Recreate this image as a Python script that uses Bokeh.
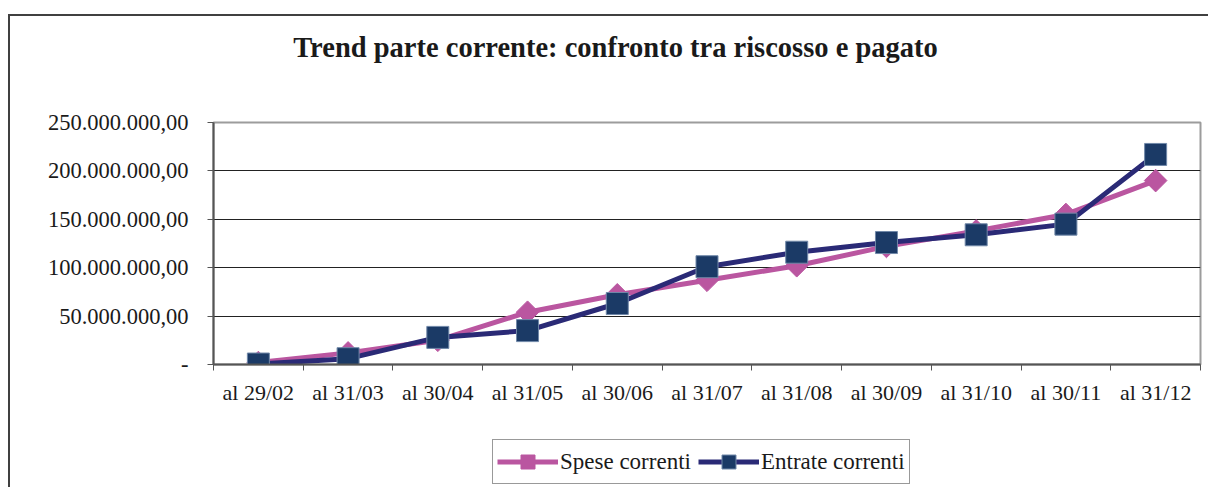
import math
from bokeh.plotting import figure
from bokeh.layouts import column
from bokeh.models import FixedTicker, Legend, LegendItem, Range1d, Label
from bokeh.embed import file_html
from bokeh.resources import INLINE

title_text = "Trend parte corrente: confronto tra riscosso e pagato"
categories = ["al 29/02", "al 31/03", "al 30/04", "al 31/05", "al 30/06", "al 31/07",
              "al 31/08", "al 30/09", "al 31/10", "al 30/11", "al 31/12"]
spese_correnti = [2e6, 12e6, 25e6, 54e6, 72e6, 87e6, 102e6, 122e6, 138e6, 155e6, 190e6]
entrate_correnti = [0.5e6, 6e6, 28e6, 35e6, 63e6, 101e6, 116e6, 126e6, 134e6, 145e6, 217e6]
series_names = ["Spese correnti", "Entrate correnti"]
y_ticks = [0, 50e6, 100e6, 150e6, 200e6, 250e6]
y_tick_labels = ["-", "50.000.000,00", "100.000.000,00", "150.000.000,00",
                 "200.000.000,00", "250.000.000,00"]

n = len(categories)
xc = [i + 0.5 for i in range(n)]
bounds = list(range(n + 1))

SERIF = "Liberation Serif"
PINK = "#BA56A0"
NAVY_LINE = "#2A2A76"
NAVY_FILL = "#1B3A66"
W = 1198


def band(height):
    f = figure(width=W, height=height, output_backend="svg", toolbar_location=None,
               x_axis_type=None, y_axis_type=None, x_range=Range1d(0, n),
               y_range=Range1d(-2, -1), min_border=0)
    f.outline_line_color = None
    f.background_fill_color = "white"
    f.border_fill_color = "white"
    return f


def draw_series(f):
    l1 = f.line(xc, spese_correnti, line_color=PINK, line_width=5)
    s1 = f.scatter(xc, spese_correnti, marker="square", angle=math.pi / 4, size=16,
                   fill_color=PINK, line_color=PINK)
    l2 = f.line(xc, entrate_correnti, line_color=NAVY_LINE, line_width=5)
    s2 = f.scatter(xc, entrate_correnti, marker="square", size=22,
                   fill_color=NAVY_FILL, line_color="#7088A8", line_width=1)
    return [[l1, s1], [l2, s2]]


# ---- title band (frame is aligned with the main chart's frame) ----
p0 = band(84)
p0.add_layout(Label(x=402, y=53, x_units="screen", y_units="screen", text=title_text,
                    text_align="center", text_baseline="alphabetic",
                    text_font=SERIF, text_font_style="bold", text_font_size="28.5px",
                    text_color="#1a1a1a"))

# ---- main chart ----
p = figure(width=W, height=330, output_backend="svg", toolbar_location=None,
           x_range=Range1d(0, n), y_range=Range1d(y_ticks[0], y_ticks[-1]),
           min_border_left=203, min_border_right=8, min_border_top=22,
           min_border_bottom=66)
p.background_fill_color = "white"
p.border_fill_color = "white"
p.outline_line_color = "#9c9c9c"
p.outline_line_width = 2

xa = p.xaxis[0]
xa.ticker = FixedTicker(ticks=xc, minor_ticks=bounds)
xa.major_label_overrides = {x: c for x, c in zip(xc, categories)}
xa.major_tick_out = 0
xa.major_tick_in = 0
xa.minor_tick_out = 6
xa.minor_tick_in = 0
xa.minor_tick_line_color = "#555555"
xa.axis_line_color = "#555555"
xa.axis_line_width = 2
xa.major_label_text_font = SERIF
xa.major_label_text_font_size = "22px"
xa.major_label_text_color = "#1a1a1a"
xa.major_label_standoff = 9

ya = p.yaxis[0]
ya.ticker = FixedTicker(ticks=y_ticks)
ya.major_label_overrides = {t: s for t, s in zip(y_ticks, y_tick_labels)}
ya.major_tick_out = 6
ya.major_tick_in = 0
ya.minor_tick_out = 0
ya.minor_tick_in = 0
ya.major_tick_line_color = "#555555"
ya.axis_line_color = "#555555"
ya.axis_line_width = 2
ya.major_label_text_font = SERIF
ya.major_label_text_font_size = "22.5px"
ya.major_label_text_color = "#1a1a1a"
ya.major_label_standoff = 19

p.xgrid.visible = False
p.ygrid.ticker = FixedTicker(ticks=y_ticks[1:-1])
p.ygrid.grid_line_color = "#222222"
p.ygrid.grid_line_width = 1

draw_series(p)

# ---- legend band (its copies of the series lie outside its empty frame range) ----
p2 = band(57)
rs = draw_series(p2)
legend = Legend(items=[LegendItem(label=series_names[i], renderers=rs[i]) for i in range(2)],
                orientation="horizontal", location=(279, 3),
                glyph_width=61, glyph_height=35, label_standoff=2, spacing=7,
                padding=4, margin=0,
                label_text_font=SERIF, label_text_font_size="23px",
                label_text_color="#1a1a1a",
                border_line_color="#333333", border_line_width=1,
                background_fill_color="white", background_fill_alpha=1)
p2.add_layout(legend, "center")

layout = column(p0, p, p2, spacing=0, margin=(14, 0, 0, 8),
                styles={"border-left": "2px solid #404040",
                        "border-top": "2px solid #404040"})

open("out.html", "w").write(file_html(layout, INLINE))
